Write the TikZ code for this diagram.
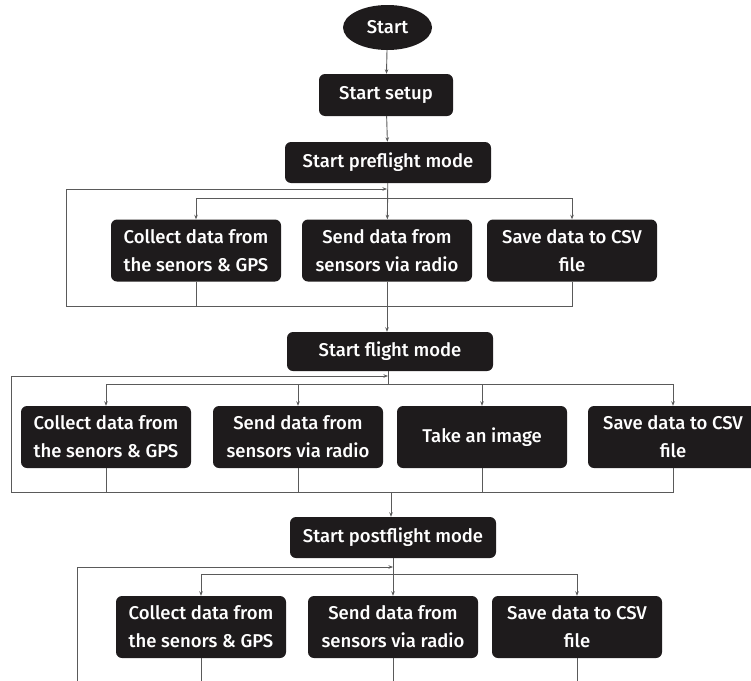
\documentclass[tikz,border=0pt]{standalone}
\usepackage{fontspec}
\setmainfont{Fira Sans}[UprightFont=* Medium]
\usetikzlibrary{shapes.geometric,arrows.meta}
\definecolor{boxfill}{RGB}{30,27,28}
\definecolor{linegray}{RGB}{90,90,90}
\tikzset{
	modebox/.style={fill=boxfill, text=white, rounded corners=6pt, inner sep=0pt, font=\fontsize{18.5}{28}\selectfont},
	taskbox/.style={modebox, minimum width=170pt, minimum height=62pt, align=center},
	flowline/.style={draw=linegray, line width=0.9pt},
	flowarrow/.style={flowline, -{Stealth[length=4.5pt, width=3.5pt]}}
}

\begin{document}
\begin{tikzpicture}[x=1pt, y=-1pt]
			%%%%% START %%%%%
			\useasboundingbox (0, 0) rectangle (751, 680);
			
			\node[modebox, ellipse, minimum width=89pt, minimum height=45pt] (start) at (387.5, 27.5) {Start};
			\node[modebox, minimum width=134pt, minimum height=42pt] (setup) at (386, 95) {Start setup};
			\node[modebox, minimum width=206pt, minimum height=41pt] (pre) at (388, 162.5) {Start preflight mode};
			
			\draw[flowarrow] (start) -- (setup);
			\draw[flowarrow] (setup) -- (pre);
			
			% preflight
			\node[taskbox] (precollect) at (196, 250.5) {Collect data from\\the senors \& GPS};
			\node[taskbox] (presend) at (387, 250.5) {Send data from\\sensors via radio};
			\node[taskbox] (presave) at (572, 250.5) {Save data to CSV\\file};
			
			\coordinate (preloop) at (387, 189);
			\coordinate (presplit) at (387, 198);
			\coordinate (prejoin) at (387, 306);
			\coordinate (precornerA) at (66, 306);
			\coordinate (precornerB) at (66, 189);
			
			\draw[flowarrow] (pre) -- (presend);
			\draw[flowarrow] (presplit) -| (precollect);
			\draw[flowarrow] (presplit) -| (presave);
			\draw[flowline] (precollect) |- (prejoin);
			\draw[flowline] (presave) |- (prejoin);
			\draw[flowline] (presend) -- (prejoin);
			\draw[flowarrow] (prejoin) -- (precornerA) -- (precornerB) -- (preloop);
			
			% flight
			\node[modebox, minimum width=206pt, minimum height=39pt] (flight) at (390, 351.5) {Start flight mode};
			\draw[flowarrow] (prejoin) -- (flight.north -| prejoin);
			
			\node[taskbox] (flycollect) at (106, 437) {Collect data from\\the senors \& GPS};
			\node[taskbox] (flysend) at (298, 437) {Send data from\\sensors via radio};
			\node[taskbox] (flyimage) at (482, 437) {Take an image};
			\node[taskbox] (flysave) at (673, 437) {Save data to CSV\\file};
			
			\coordinate (flyloop) at (388, 376);
			\coordinate (flysplit) at (388, 384);
			\coordinate (flyjoin) at (391, 492);
			\coordinate (flycornerA) at (11, 492);
			\coordinate (flycornerB) at (11, 376);
			
			\draw[flowline] (flight.south -| flysplit) -- (flysplit);
			\draw[flowarrow] (flysplit) -| (flycollect);
			\draw[flowarrow] (flysplit) -| (flysend);
			\draw[flowarrow] (flysplit) -| (flyimage);
			\draw[flowarrow] (flysplit) -| (flysave);
			\draw[flowline] (flycollect) |- (flyjoin);
			\draw[flowline] (flysend) |- (flyjoin);
			\draw[flowline] (flyimage) |- (flyjoin);
			\draw[flowline] (flysave) |- (flyjoin);
			\draw[flowarrow] (flyjoin) -- (flycornerA) -- (flycornerB) -- (flyloop);
			
			% postflight
			\node[modebox, minimum width=206pt, minimum height=41pt] (post) at (393, 537.5) {Start postflight mode};
			\draw[flowarrow] (flyjoin) -- (post.north -| flyjoin);
			
			\node[taskbox] (postcollect) at (201, 627) {Collect data from\\the senors \& GPS};
			\node[taskbox] (postsend) at (393, 627) {Send data from\\sensors via radio};
			\node[taskbox] (postsave) at (577, 627) {Save data to CSV\\file};
			
			\coordinate (postloop) at (393, 567);
			\coordinate (postsplit) at (393, 574);
			\coordinate (postcornerA) at (77, 690);
			\coordinate (postcornerB) at (77, 567);
			
			\draw[flowarrow] (post) -- (postsend);
			\draw[flowarrow] (postsplit) -| (postcollect);
			\draw[flowarrow] (postsplit) -| (postsave);
			\draw[flowline] (postcollect.south) -- ++(0, 40);
			\draw[flowline] (postsend.south) -- ++(0, 40);
			\draw[flowline] (postsave.south) -- ++(0, 40);
			\draw[flowarrow] (postcornerA) -- (postcornerB) -- (postloop);
			
			%%%%% END %%%%%
		\end{tikzpicture}
\end{document}
